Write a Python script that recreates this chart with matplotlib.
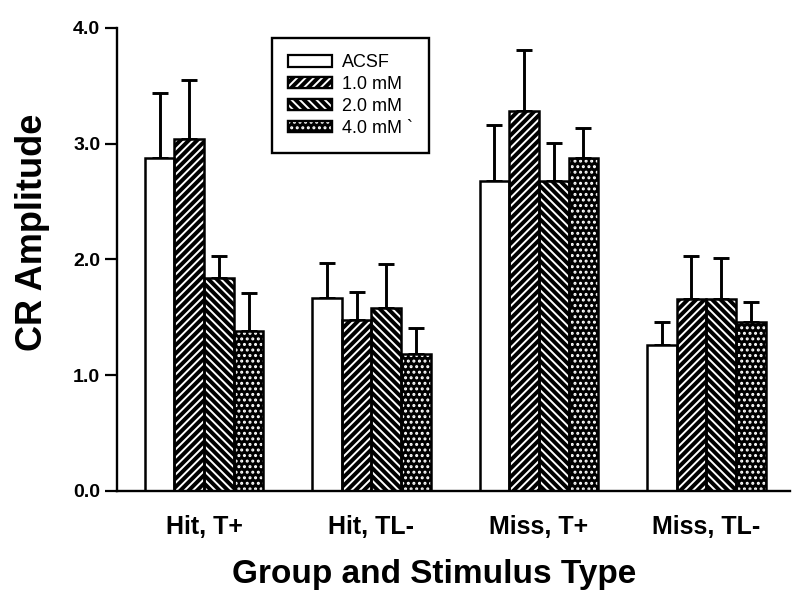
import matplotlib
matplotlib.use("Agg")
import matplotlib.pyplot as plt
import numpy as np
from matplotlib.legend_handler import HandlerTuple

# ---- data ----
groups = ["Hit, T+", "Hit, TL-", "Miss, T+", "Miss, TL-"]
series = ["ACSF", "1.0 mM", "2.0 mM", "4.0 mM `"]
acsf = [2.88, 1.67, 2.68, 1.26]
mm10 = [3.04, 1.48, 3.28, 1.66]
mm20 = [1.84, 1.58, 2.68, 1.66]
mm40 = [1.38, 1.18, 2.88, 1.46]
acsf_err = [0.56, 0.30, 0.48, 0.20]
mm10_err = [0.51, 0.24, 0.53, 0.37]
mm20_err = [0.19, 0.38, 0.33, 0.35]
mm40_err = [0.33, 0.23, 0.26, 0.17]
yticks = [0.0, 1.0, 2.0, 3.0, 4.0]
ytick_labels = ["0.0", "1.0", "2.0", "3.0", "4.0"]

means = [acsf, mm10, mm20, mm40]
errs = [acsf_err, mm10_err, mm20_err, mm40_err]

plt.rcParams['font.family'] = ['Liberation Sans', 'DejaVu Sans']
plt.rcParams['hatch.linewidth'] = 1.4

fig = plt.figure(figsize=(8.0, 6.06), dpi=100)
ax = fig.add_axes([0.14625, 0.1898, 0.84125, 0.764])

x = np.arange(len(groups))
w = 0.177
styles = [
    dict(fc='white', hatch=None),
    dict(fc='black', hatch='////'),
    dict(fc='black', hatch='\\\\\\\\'),
    dict(fc='black', hatch='...'),
]
handles = []
for k in range(4):
    pos = x + (k - 1.5) * w
    st = styles[k]
    ax.bar(pos, means[k], w, color=st['fc'], edgecolor=st['fc'], linewidth=0, zorder=2)
    hs = []
    base = plt.Rectangle((0, 0), 1, 1, facecolor=st['fc'], edgecolor='black', linewidth=1.6)
    hs.append(base)
    if st['hatch']:
        ax.bar(pos, means[k], w, color='none', edgecolor='white', hatch=st['hatch'],
               linewidth=0, zorder=3)
        hs.append(plt.Rectangle((0, 0), 1, 1, facecolor='none', edgecolor='white',
                                hatch=st['hatch'], linewidth=0))
        hs.append(plt.Rectangle((0, 0), 1, 1, facecolor='none', edgecolor='black', linewidth=1.6))
    ax.bar(pos, means[k], w, color='none', edgecolor='black', linewidth=1.8, zorder=4)
    ax.errorbar(pos, means[k], yerr=[np.zeros(4), errs[k]], fmt='none', ecolor='black',
                elinewidth=2.1, capsize=6, capthick=2.1, zorder=1)
    handles.append(tuple(hs))

ax.set_xlim(-0.52, 3.50)
ax.set_ylim(0, 4.0)
ax.set_yticks(yticks)
ax.set_yticklabels(ytick_labels, fontsize=14, fontweight='bold')
ax.set_xticks(x)
ax.set_xticklabels(groups, fontsize=18, fontweight='bold')
ax.tick_params(axis='x', length=0, pad=17)
ax.tick_params(axis='y', length=9, width=1.6, pad=3, direction='out')
for s in ['top', 'right']:
    ax.spines[s].set_visible(False)
for s in ['left', 'bottom']:
    ax.spines[s].set_linewidth(1.7)
ax.spines['left'].set_zorder(5)
ax.spines['bottom'].set_zorder(5)

fig.text(434 / 800, 1 - 575 / 606, "Group and Stimulus Type", fontsize=24,
         fontweight='bold', ha='center', va='center')
fig.text(33 / 800, 1 - 232 / 606, "CR Amplitude", fontsize=26, fontweight='bold',
         ha='center', va='center', rotation=90)

leg = ax.legend(handles, series, handler_map={tuple: HandlerTuple(ndivide=1, pad=0)},
                loc='upper left', bbox_to_anchor=(272 / 800, 1 - 38 / 606),
                bbox_transform=fig.transFigure, borderaxespad=0, fontsize=13,
                handlelength=2.4, handleheight=0.6, labelspacing=0.27,
                handletextpad=0.55, borderpad=0.9, fancybox=False,
                edgecolor='black', framealpha=1)
leg.get_frame().set_linewidth(1.7)
leg.set_zorder(10)

fig.savefig("out.png", dpi=100, facecolor='white')
